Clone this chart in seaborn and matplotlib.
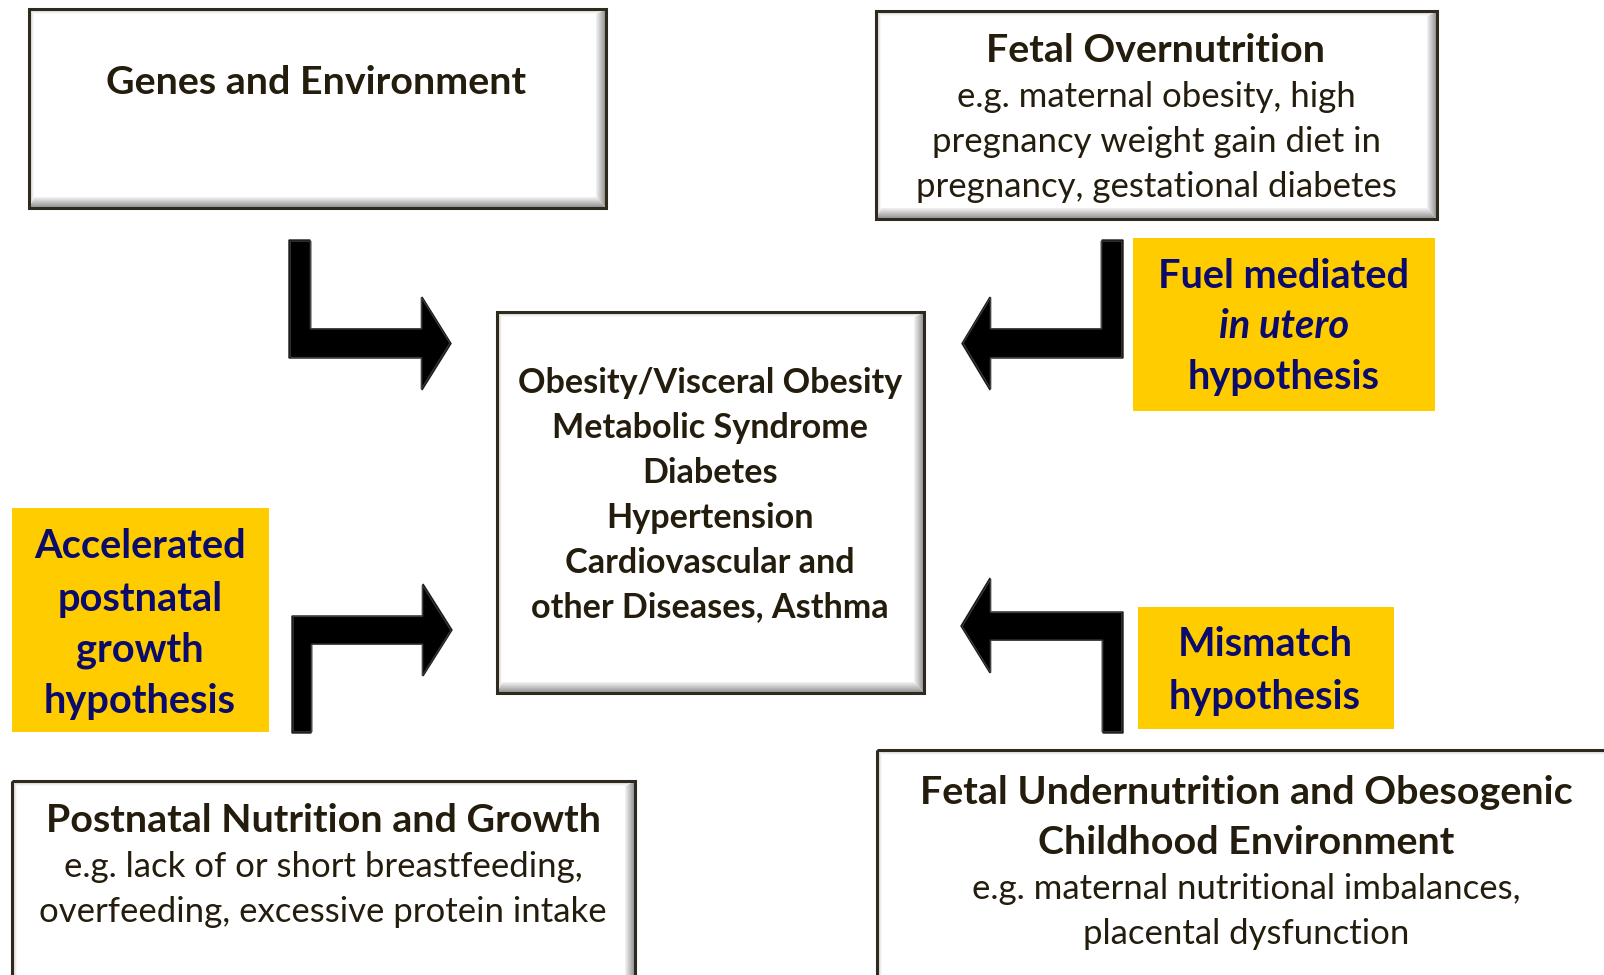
import numpy as np
import matplotlib
matplotlib.use("Agg")
import matplotlib.pyplot as plt
import seaborn as sns
from matplotlib.patches import Polygon, Rectangle

# ---------------- text content ----------------
genes_title = ["Genes and Environment"]
over_title = ["Fetal Overnutrition"]
over_lines = ["e.g. maternal obesity, high",
              "pregnancy weight gain diet in",
              "pregnancy, gestational diabetes"]
center_lines = ["Obesity/Visceral Obesity", "Metabolic Syndrome", "Diabetes",
                "Hypertension", "Cardiovascular and", "other Diseases, Asthma"]
post_title = ["Postnatal Nutrition and Growth"]
post_lines = ["e.g. lack of or short breastfeeding,",
              "overfeeding, excessive protein intake"]
under_title = ["Fetal Undernutrition and Obesogenic", "Childhood Environment"]
under_lines = ["e.g. maternal nutritional imbalances,", "placental dysfunction"]
fuel_lines = ["Fuel mediated", "in utero", "hypothesis"]
fuel_italic = [False, True, False]
accel_lines = ["Accelerated", "postnatal", "growth", "hypothesis"]
mismatch_lines = ["Mismatch", "hypothesis"]

# ---------------- style ----------------
sns.set_theme(style="white")
plt.rcParams['font.family'] = ['Lato', 'DejaVu Sans']
DARK = "#241d0e"
NAVY = "#0b0b6b"
YELLOW = "#FFCC00"
TITLE_PT = 28.4
CENTER_PT = 24.6
REG_PT = 25.0
HYP_PT = 28.6

W, H = 1604, 975
fig = plt.figure(figsize=(W / 100, H / 100), dpi=100)
ax = fig.add_axes([0, 0, 1, 1])
ax.set_xlim(0, W)
ax.set_ylim(H, 0)
ax.axis("off")


def grad_strip(poly_pts, extent, vertical, c_in, c_out, z):
    poly = Polygon(poly_pts, closed=True, facecolor="none", edgecolor="none", zorder=z)
    ax.add_patch(poly)
    n = 64
    t = np.linspace(0, 1, n)
    c_in = np.array(matplotlib.colors.to_rgb(c_in))
    c_out = np.array(matplotlib.colors.to_rgb(c_out))
    cols = c_in[None, :] * (1 - t[:, None]) + c_out[None, :] * t[:, None]
    if vertical:
        img = cols[:, None, :]
    else:
        img = cols[None, :, :]
    im = ax.imshow(img, extent=extent, origin="upper", aspect="auto",
                   interpolation="bilinear", zorder=z)
    im.set_clip_path(poly)


def bevel_box(l, t, r, b):
    ax.add_patch(Rectangle((l, t), r - l, b - t, facecolor="white",
                           edgecolor="none", zorder=1))
    bw, rw, tw, lw_ = 11, 10, 5, 5
    grad_strip([(l, b), (r, b), (r - rw, b - bw), (l + lw_, b - bw)],
               (l, r, b, b - bw), True, "#f4f4f4", "#8d8d8d", 2)
    grad_strip([(r, t), (r, b), (r - rw, b - bw), (r - rw, t + tw)],
               (r - rw, r, b, t), False, "#f4f4f4", "#8d8d8d", 2)
    grad_strip([(l, t), (r, t), (r - rw, t + tw), (l + lw_, t + tw)],
               (l, r, t + tw, t), True, "#c8c8c8", "#ffffff", 2)
    grad_strip([(l, t), (l, b), (l + lw_, b - bw), (l + lw_, t + tw)],
               (l, l + lw_, b, t), False, "#bdbdbd", "#ffffff", 2)
    ax.add_patch(Rectangle((l, t), r - l, b - t, facecolor="none",
                           edgecolor="#2e2a1e", linewidth=2.2, zorder=3))


def yellow_box(l, t, r, b):
    ax.add_patch(Rectangle((l, t), r - l, b - t, facecolor=YELLOW,
                           edgecolor="none", zorder=1))


def arrow(pts):
    ax.add_patch(Polygon(pts, closed=True, facecolor="black",
                         edgecolor="#1a1a1a", linewidth=1.0, zorder=4))
    # subtle bevel highlight
    p = np.array(pts, dtype=float)
    c = p.mean(axis=0)
    inner = c + (p - c) * 0.985
    ax.add_patch(Polygon(inner, closed=True, facecolor="none",
                         edgecolor="#3c3c3c", linewidth=0.8, zorder=4))


def lines(x, ys, texts, size, weight, color, styles=None):
    for i, (y, s) in enumerate(zip(ys, texts)):
        st = "italic" if (styles is not None and styles[i]) else "normal"
        ax.text(x, y, s, ha="center", va="center", fontsize=size,
                fontweight=weight, color=color, style=st, zorder=5)


# ---------------- boxes ----------------
bevel_box(29, 9, 606, 208)
lines(316, [83], genes_title, TITLE_PT, "bold", DARK)

bevel_box(876, 11, 1437, 219)
lines(1156, [50], over_title, TITLE_PT, "bold", DARK)
lines(1156, [97, 142, 187], over_lines, REG_PT, "normal", DARK)

bevel_box(497, 312, 924, 693)
lines(710, [383, 428, 473, 518, 563, 607], center_lines, CENTER_PT, "bold", DARK)

bevel_box(12, 781, 635, 995)
lines(323, [821], post_title, TITLE_PT, "bold", DARK)
lines(323, [867, 912], post_lines, REG_PT, "normal", DARK)

bevel_box(877, 750, 1625, 995)
lines(1246, [792, 842], under_title, TITLE_PT, "bold", DARK)
lines(1246, [889, 934], under_lines, REG_PT, "normal", DARK)

yellow_box(1133, 238, 1435, 411)
lines(1284, [276, 327, 378], fuel_lines, HYP_PT, "bold", NAVY, fuel_italic)

yellow_box(12, 508, 269, 732)
lines(140, [547, 599, 650, 701], accel_lines, HYP_PT, "bold", NAVY)

yellow_box(1138, 607, 1394, 729)
lines(1265, [645, 697], mismatch_lines, HYP_PT, "bold", NAVY)

# ---------------- arrows ----------------
arrow([(289, 240), (310, 240), (310, 329), (422, 329), (422, 297), (451, 343.5),
       (422, 390), (422, 358), (289, 358)])
arrow([(1123, 240), (1102, 240), (1102, 329), (990, 329), (990, 297), (962, 343.5),
       (990, 390), (990, 358), (1123, 358)])
arrow([(292, 733), (292, 616), (423, 616), (423, 584), (452, 630), (423, 676),
       (423, 644), (311, 644), (311, 733)])
arrow([(1123, 733), (1123, 612), (990, 612), (990, 578), (961, 626), (990, 673),
       (990, 640), (1103, 640), (1103, 733)])

fig.savefig("out.png", dpi=100, facecolor="white")
